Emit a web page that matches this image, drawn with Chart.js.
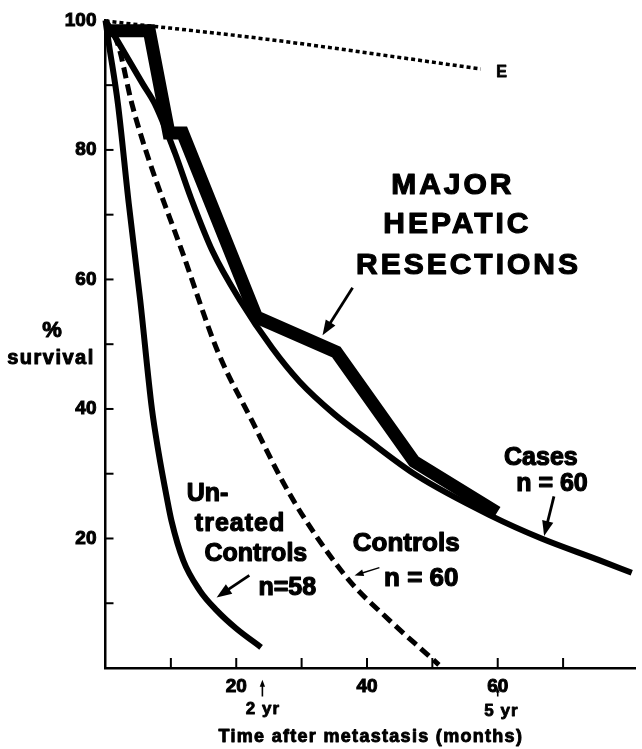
<!DOCTYPE html>
<html><head><meta charset="utf-8">
<script src="https://cdn.jsdelivr.net/npm/chart.js@4/dist/chart.umd.min.js"></script>
<style>html,body{margin:0;padding:0;background:#fff;}canvas{display:block;}</style>
</head><body>
<canvas id="c" width="642" height="749"></canvas>
<script>
// ---- data (months after metastasis, % survival) ----
const resectionMonths   = [0, 6.7, 9.7, 11.8, 23.1, 35.3, 47.2, 59.9];
const resectionSurvival = [98.4, 98.4, 82.6, 82.6, 54.2, 48.8, 31.9, 24.0];

const casesMonths   = [0, 5.7, 7.55, 10.6, 13.1, 16.4, 20.5, 25.5, 29.7, 35, 39.9, 47.5, 59, 66.7, 75.4, 80.5];
const casesSurvival = [100, 90.2, 87.1, 79.6, 72.5, 64.3, 56.9, 49.4, 44.2, 39.2, 35.4, 29.8, 23.5, 20.0, 16.7, 14.7];

const controlsMonths   = [0, 1.9, 4.04, 6.33, 11.8, 17.2, 22.5, 27.1, 30.7, 37.3, 43.4, 49, 51];
const controlsSurvival = [100, 96.3, 87.1, 79.4, 64.1, 48.8, 38, 28.8, 22.7, 13.5, 7.4, 2.3, 0.5];

const untreatedMonths   = [0, 0.5, 1.9, 3.55, 5.3, 7.1, 8.1, 9.4, 10.1, 11.9, 14.4, 17, 20, 23.8];
const untreatedSurvival = [100, 96.5, 87.1, 71.8, 56.9, 40, 33.4, 26.2, 22.7, 16.6, 12, 8.9, 6.1, 3.2];

const expectedMonths   = [0, 24.6, 57.4];
const expectedSurvival = [99.9, 97.1, 92.5];

const xTickLabels = [20, 40, 60, 80];
const yTickLabels = [20, 40, 60, 80, 100];

// ---- annotations (in data coordinates) ----
const FONT = '"Liberation Sans", Arial, Helvetica, sans-serif';
const notes = [
  {text:'MAJOR', m:52.9, p:74.4, size:30, sp:3},
  {text:'HEPATIC', m:53.6, p:68.4, size:30, sp:3},
  {text:'RESECTIONS', m:55.3, p:62.1, size:30, sp:3},
  {text:'Cases', m:66.6, p:32.4, size:25, sp:0},
  {text:'n = 60', m:68.3, p:28.4, size:25, sp:0},
  {text:'Un-', m:15.6, p:26.8, size:25, sp:0},
  {text:'treated', m:20.5, p:22.2, size:25, sp:1},
  {text:'Controls', m:23, p:17.6, size:25, sp:0},
  {text:'n=58', m:27.8, p:12.4, size:25, sp:0},
  {text:'Controls', m:46, p:19.2, size:26, sp:0},
  {text:'n = 60', m:48.3, p:13.8, size:26, sp:0},
  {text:'E', m:60.6, p:92, size:16, sp:0},
  {text:'2 yr', m:24, p:-6.4, size:17, sp:1},
  {text:'5 yr', m:60.5, p:-6.7, size:17, sp:1}
];
const arrows = [
  {from:[37.8,58.7], to:[33.2,51.4], w:2.8, head:15},
  {from:[68.6,26.5], to:[67.1,20.4], w:2.8, head:15},
  {from:[22,14.3], to:[17,10.9], w:2.8, head:15},
  {from:[41.9,15.5], to:[38.1,14.3], w:1.4, head:9},
  {from:[24,-4.4], to:[24,-1.8], w:1.6, head:7},
  {from:[60,-4.4], to:[60,-3.0], w:1.6, head:5}
];

const pts = (xs, ys) => xs.map((x, i) => ({x, y: ys[i]}));

function drawArrow(ctx, x1, y1, x2, y2, w, head){
  const ang = Math.atan2(y2 - y1, x2 - x1);
  const bx = x2 - Math.cos(ang) * head * 0.8, by = y2 - Math.sin(ang) * head * 0.8;
  ctx.lineWidth = w; ctx.lineCap = 'butt';
  ctx.beginPath(); ctx.moveTo(x1, y1); ctx.lineTo(bx, by); ctx.stroke();
  const hw = head * 0.38;
  const cx = x2 - Math.cos(ang) * head, cy = y2 - Math.sin(ang) * head;
  ctx.beginPath();
  ctx.moveTo(x2, y2);
  ctx.lineTo(cx + Math.sin(ang) * hw, cy - Math.cos(ang) * hw);
  ctx.lineTo(cx - Math.sin(ang) * hw, cy + Math.cos(ang) * hw);
  ctx.closePath(); ctx.fill();
}

function boldText(ctx, text, x, y, sw){
  ctx.lineWidth = sw; ctx.lineJoin = 'round';
  ctx.strokeText(text, x, y);
  ctx.fillText(text, x, y);
}

const annotPlugin = {
  id: 'annot',
  afterDraw(chart){
    const {ctx, chartArea: a, scales: {x, y}} = chart;
    ctx.save();
    ctx.strokeStyle = '#000'; ctx.fillStyle = '#000'; ctx.lineWidth = 2;
    // inward tick marks
    x.ticks.forEach(t => {
      if (t.value > 0 && t.value % 10 === 0) {
        const px = x.getPixelForValue(t.value);
        ctx.beginPath(); ctx.moveTo(px, a.bottom); ctx.lineTo(px, a.bottom - 10); ctx.stroke();
      }
    });
    y.ticks.forEach(t => {
      if (t.value > 0 && t.value < 100 && t.value % 10 === 0) {
        const py = y.getPixelForValue(t.value);
        ctx.beginPath(); ctx.moveTo(a.left, py); ctx.lineTo(a.left + 8, py); ctx.stroke();
      }
    });
    // texts
    ctx.textAlign = 'center'; ctx.textBaseline = 'middle';
    notes.forEach(n => {
      ctx.font = `bold ${n.size}px ${FONT}`;
      ctx.letterSpacing = n.sp + 'px';
      boldText(ctx, n.text, x.getPixelForValue(n.m) + n.sp / 2, y.getPixelForValue(n.p), n.size >= 25 ? 1.2 : 0.8);
    });
    // axis titles
    ctx.font = `bold 18px ${FONT}`; ctx.letterSpacing = '1.3px';
    boldText(ctx, 'Time after metastasis (months)', (a.left + a.right) / 2 + 0.6, 737, 0.9);
    ctx.font = `bold 22px ${FONT}`; ctx.letterSpacing = '0px';
    boldText(ctx, '%', 52, 331, 1);
    ctx.font = `bold 20px ${FONT}`; ctx.letterSpacing = '1.5px';
    boldText(ctx, 'survival', 51, 358, 1);
    ctx.letterSpacing = '0px';
    // arrows
    arrows.forEach(r => drawArrow(ctx,
      x.getPixelForValue(r.from[0]), y.getPixelForValue(r.from[1]),
      x.getPixelForValue(r.to[0]), y.getPixelForValue(r.to[1]), r.w, r.head));
    ctx.restore();
  }
};

const base = {borderColor:'#000', backgroundColor:'#000', pointRadius:0, fill:false, clip:false};

new Chart(document.getElementById('c').getContext('2d'), {
  type: 'line',
  data: {datasets: [
    Object.assign({label:'Major hepatic resections', data: pts(resectionMonths, resectionSurvival),
      borderWidth:13, tension:0, borderJoinStyle:'miter', borderCapStyle:'butt'}, base),
    Object.assign({label:'Cases n = 60', data: pts(casesMonths, casesSurvival),
      borderWidth:6, cubicInterpolationMode:'monotone'}, base),
    Object.assign({label:'Controls n = 60', data: pts(controlsMonths, controlsSurvival),
      borderWidth:5, borderDash:[11,6], cubicInterpolationMode:'monotone'}, base),
    Object.assign({label:'Untreated controls n=58', data: pts(untreatedMonths, untreatedSurvival),
      borderWidth:6, cubicInterpolationMode:'monotone'}, base),
    Object.assign({label:'E', data: pts(expectedMonths, expectedSurvival),
      borderWidth:3.5, borderDash:[4,3], cubicInterpolationMode:'monotone'}, base)
  ]},
  options: {
    responsive:false, animation:false, devicePixelRatio:1,
    layout:{padding:{top:16, right:5.5, left:0, bottom:0}},
    plugins:{legend:{display:false}, tooltip:{enabled:false}},
    scales:{
      x:{type:'linear', min:0, max:81,
        afterFit: s => { s.height = 81; },
        grid:{display:true, drawOnChartArea:false, drawTicks:false},
        border:{display:true, color:'#000', width:2.5},
        ticks:{stepSize:10, autoSkip:false, maxRotation:0, padding:7, color:'#000',
          textStrokeColor:'#000', textStrokeWidth:1,
          font:{family:FONT, size:19, weight:'bold'},
          callback: v => xTickLabels.includes(v) ? String(v) : ''}},
      y:{type:'linear', min:0, max:100,
        afterFit: s => { s.width = 105.5; },
        grid:{display:true, drawOnChartArea:false, drawTicks:false},
        border:{display:true, color:'#000', width:2.5},
        ticks:{stepSize:10, autoSkip:false, padding:9, color:'#000',
          textStrokeColor:'#000', textStrokeWidth:1,
          font:{family:FONT, size:19, weight:'bold'},
          callback: v => yTickLabels.includes(v) ? String(v) : ''}}
    }
  },
  plugins:[annotPlugin]
});
</script>
</body></html>
